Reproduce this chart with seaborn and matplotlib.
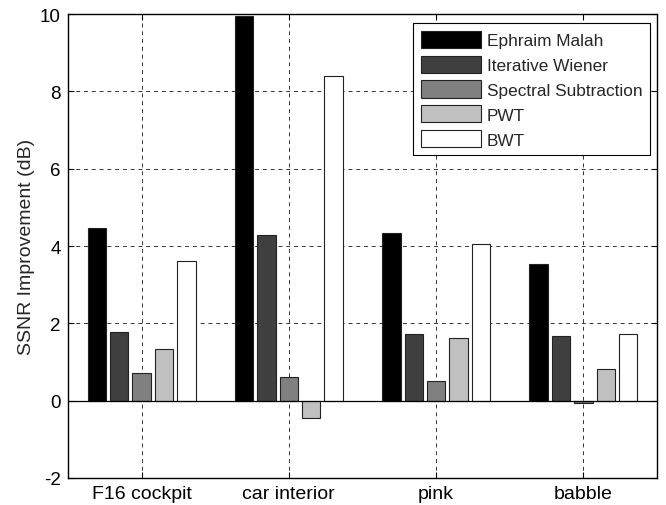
import matplotlib
matplotlib.use("Agg")
import matplotlib.pyplot as plt
from matplotlib.patches import Patch
import seaborn as sns
import pandas as pd

categories = ["F16 cockpit", "car interior", "pink", "babble"]
methods = ["Ephraim Malah", "Iterative Wiener", "Spectral Subtraction", "PWT", "BWT"]
ephraim_malah = [4.47, 9.96, 4.33, 3.53]
iterative_wiener = [1.77, 4.29, 1.72, 1.67]
spectral_subtraction = [0.72, 0.61, 0.50, -0.07]
pwt = [1.35, -0.45, 1.63, 0.82]
bwt = [3.62, 8.40, 4.05, 1.72]
colors = ["#000000", "#404040", "#808080", "#c0c0c0", "#ffffff"]
yticks = [-2, 0, 2, 4, 6, 8, 10]

series = [ephraim_malah, iterative_wiener, spectral_subtraction, pwt, bwt]
rows = []
for m, vals in zip(methods, series):
    for c, v in zip(categories, vals):
        rows.append({"noise": c, "method": m, "value": v})
df = pd.DataFrame(rows)

sns.set_style("white")
plt.rcParams["font.family"] = ["Liberation Sans", "DejaVu Sans"]

fig = plt.figure(figsize=(6.66, 5.06), dpi=100)
ax = fig.add_axes([0.102, 0.0534, 0.8845, 0.9166])

sns.barplot(data=df, x="noise", y="value", hue="method", order=categories,
            hue_order=methods, palette=colors, width=0.76, gap=0.18,
            edgecolor="#222222", linewidth=0.8, ax=ax, legend=False,
            errorbar=None, saturation=1, zorder=3)

ax.set_xlim(-0.5, 3.5)
ax.set_ylim(-2, 10)
ax.set_yticks(yticks)
ax.set_yticklabels([str(t) for t in yticks], fontsize=13.5)
ax.set_xticks(range(len(categories)))
ax.set_xticklabels(categories, fontsize=14)
ax.set_xlabel("")
ax.set_ylabel("SSNR Improvement (dB)", fontsize=14, labelpad=4)

ax.grid(True, which="major", linestyle=(0, (4, 4)), color="#333333", linewidth=0.7, zorder=0)
ax.set_axisbelow(True)
ax.axhline(0, color="black", linewidth=0.9, zorder=4)

ax.tick_params(direction="in", length=4, width=0.8, top=True, right=True,
               bottom=True, left=True, colors="black", pad=5)
for s in ax.spines.values():
    s.set_visible(True)
    s.set_color("black")
    s.set_linewidth(1.0)

handles = [Patch(facecolor=c, edgecolor="#222222", linewidth=0.8) for c in colors]
leg = ax.legend(handles, methods, loc="upper right", bbox_to_anchor=(0.988, 0.981),
                fontsize=12.4, frameon=True, fancybox=False, edgecolor="black",
                framealpha=1, handlelength=3.5, handleheight=1.16, labelspacing=0.43,
                borderpad=0.45, handletextpad=0.3, borderaxespad=0)
leg.get_frame().set_linewidth(0.8)

fig.savefig("out.png", dpi=100)
